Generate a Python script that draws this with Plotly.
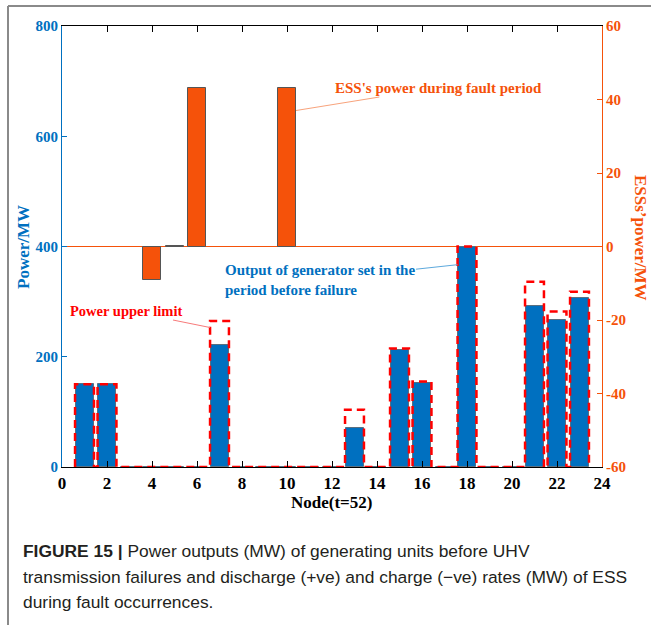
import plotly.graph_objects as go

# ---- data ----
nodes = list(range(1, 24))
gen_output = [150, 150, 0, 0, 0, 0, 221, 0, 0, 0, 0, 0, 71, 0, 213, 153, 0, 400, 0, 0, 292, 267, 307]
upper_limit = [150, 150, 0, 0, 0, 0, 265, 0, 0, 0, 0, 0, 104, 0, 215, 155, 0, 400, 0, 0, 336, 282, 318]
ess_nodes = [4, 5, 6, 10]
ess_power = [-9.1, 0.2, 43, 43]
x_ticks = list(range(0, 25, 2))
y_ticks = [0, 200, 400, 600, 800]
y2_ticks = [-60, -40, -20, 0, 20, 40, 60]
y2_labels = ["-60", "-40", "-20", "0", "20", "40", "60"]

BLUE = "#0070C0"
ORANGE = "#F5520A"
RED = "#FF0000"
SERIF = "Liberation Serif"

W, H = 651, 625
L, R, T, B = 62, 49, 26, 158
PW, PH = W - L - R, H - T - B


def px(xp):
    return (xp - L) / PW


def py(yp):
    return (H - B - yp) / PH


half = 0.42
lim_x, lim_y = [], []
for n, u in zip(nodes, upper_limit):
    lim_x += [n - half, n - half, n + half, n + half]
    lim_y += [0, u, u, 0]

fig = go.Figure()
fig.add_trace(go.Bar(x=ess_nodes, y=ess_power, yaxis="y2", width=0.8,
                     marker=dict(color=ORANGE, line=dict(color="#555555", width=1)),
                     showlegend=False))
fig.add_trace(go.Bar(x=nodes, y=gen_output, width=0.8,
                     marker=dict(color=BLUE, line=dict(color="#5a6f80", width=1)),
                     showlegend=False))
fig.add_trace(go.Scatter(x=lim_x, y=lim_y, mode="lines",
                         line=dict(color=RED, width=2.5, dash="8px,5px"),
                         showlegend=False, cliponaxis=False))

fig.update_layout(
    width=W, height=H, margin=dict(l=L, r=R, t=T, b=B),
    paper_bgcolor="white", plot_bgcolor="white", barmode="overlay",
    bargap=0,
    xaxis=dict(range=[0, 24], tickvals=x_ticks, ticks="inside", ticklen=6,
               tickcolor="black", showline=True, linecolor="black", linewidth=1.2,
               mirror="ticks", showgrid=False, zeroline=False,
               tickfont=dict(family=SERIF, size=17, color="black", weight="bold")),
    yaxis=dict(range=[0, 800], tickvals=y_ticks, ticks="inside", ticklen=5,
               tickcolor=BLUE, showline=True, linecolor=BLUE, linewidth=1.2,
               showgrid=False, zeroline=False,
               tickfont=dict(family=SERIF, size=15, color=BLUE, weight="bold")),
    yaxis2=dict(range=[-60, 60], tickvals=y2_ticks, ticktext=y2_labels,
                ticks="inside", ticklen=5,
                tickcolor=ORANGE, showline=True, linecolor=ORANGE, linewidth=1.2,
                overlaying="y", side="right", showgrid=False,
                zeroline=True, zerolinecolor=ORANGE, zerolinewidth=1.2,
                tickfont=dict(family=SERIF, size=15, color=ORANGE, weight="bold")),
)

# axis titles
fig.add_annotation(text="Power/MW", xref="paper", yref="paper", x=px(24), y=py(247),
                   xanchor="center", yanchor="middle",
                   showarrow=False, textangle=-90,
                   font=dict(family=SERIF, size=17, color=BLUE, weight="bold"))
fig.add_annotation(text="ESSs\u2019power/MW", xref="paper", yref="paper", x=px(641), y=py(238),
                   xanchor="center", yanchor="middle",
                   showarrow=False, textangle=90,
                   font=dict(family=SERIF, size=17, color=ORANGE, weight="bold"))
fig.add_annotation(text="Node(t=52)", xref="paper", yref="paper", x=px(331), y=py(502),
                   xanchor="center", yanchor="middle",
                   showarrow=False,
                   font=dict(family=SERIF, size=17, color="black", weight="bold"))

# callouts
fig.add_annotation(text="ESS's power during fault period", x=ess_nodes[3] + 0.4, y=ess_power[3] - 6,
                   xref="x", yref="y2", ax=142, ay=-23, showarrow=True, arrowhead=0,
                   arrowwidth=1, arrowcolor="#F8A37C",
                   font=dict(family=SERIF, size=15, color=ORANGE, weight="bold"))
fig.add_annotation(text="Output of generator set in the<br>period before failure",
                   x=18 - half, y=367, xref="x", yref="y", ax=-138, ay=15,
                   showarrow=True, arrowhead=0, arrowwidth=1, arrowcolor="#5DA9DD",
                   align="left",
                   font=dict(family=SERIF, size=15, color=BLUE, weight="bold"))
fig.add_annotation(text="Power upper limit", x=7 - half, y=upper_limit[6] - 12,
                   xref="x", yref="y", ax=-84, ay=-17, showarrow=True, arrowhead=0,
                   arrowwidth=1, arrowcolor="#F77A7A",
                   font=dict(family=SERIF, size=14.5, color=RED, weight="bold"))

# caption
cap_font = dict(family="Liberation Sans", size=17.4, color="#231F20")
fig.add_annotation(text="<b>FIGURE 15 |</b> Power outputs (MW) of generating units before UHV",
                   xref="paper", yref="paper", x=px(21), y=py(551), xanchor="left",
                   yanchor="middle", showarrow=False, font=cap_font)
fig.add_annotation(text="transmission failures and discharge (+ve) and charge (\u2212ve) rates (MW) of ESS",
                   xref="paper", yref="paper", x=px(21), y=py(577), xanchor="left",
                   yanchor="middle", showarrow=False, font=cap_font)
fig.add_annotation(text="during fault occurrences.",
                   xref="paper", yref="paper", x=px(21), y=py(602), xanchor="left",
                   yanchor="middle", showarrow=False, font=cap_font)

# frame
fig.add_shape(type="line", xref="paper", yref="paper", x0=px(8), x1=px(651), y0=py(6), y1=py(6),
              line=dict(color="#8a8a8a", width=2))
fig.add_shape(type="line", xref="paper", yref="paper", x0=px(8), x1=px(8), y0=py(6), y1=py(625),
              line=dict(color="#8a8a8a", width=2))

fig.write_html("out.html", config={"displayModeBar": False},
               post_script="document.body.style.margin='0';document.body.style.overflow='hidden';")
